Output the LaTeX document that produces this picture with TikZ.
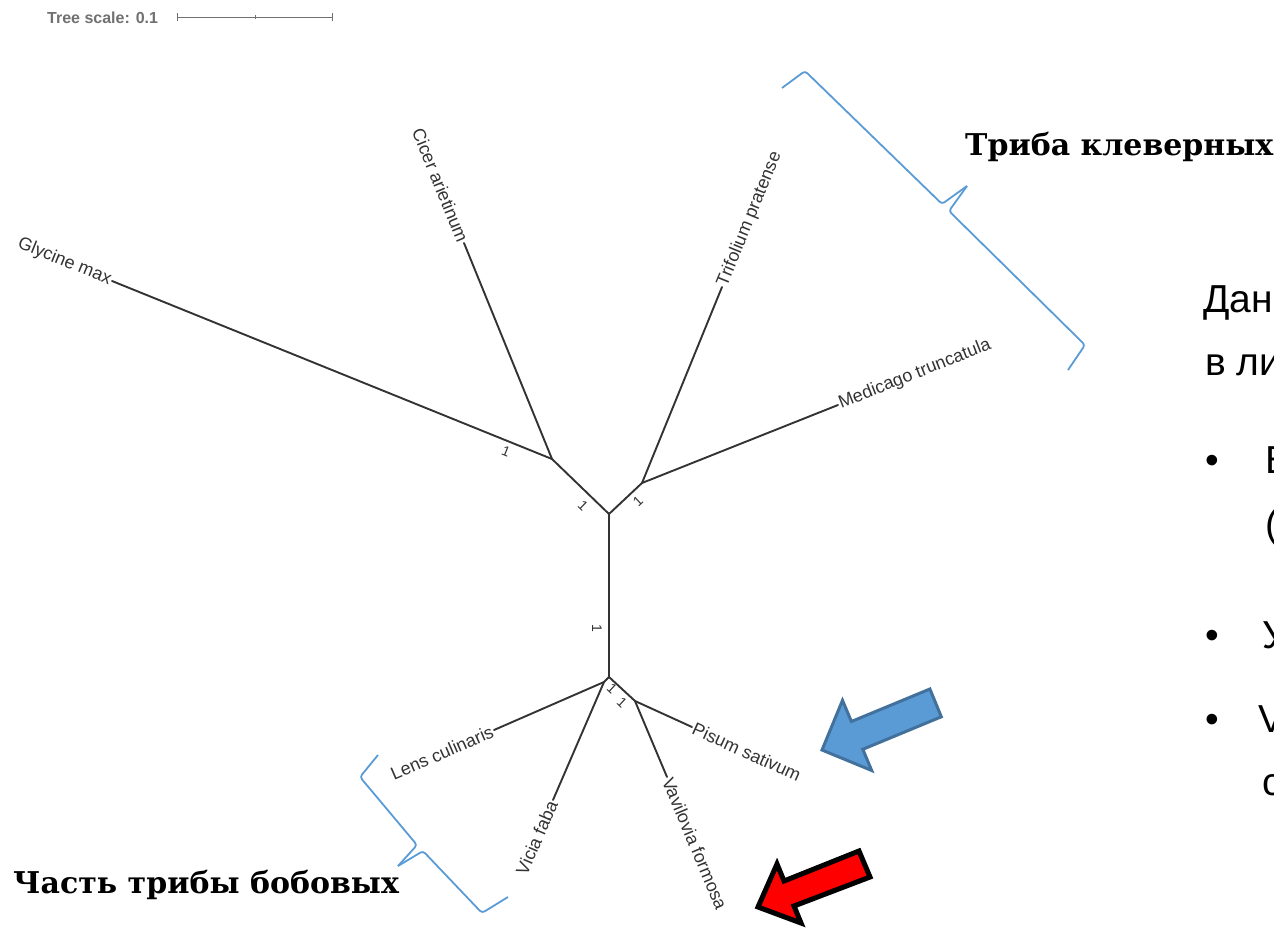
\documentclass[tikz,border=0pt]{standalone}
\usepackage{fontspec}
\setmainfont{Liberation Sans}
\newfontfamily\tribefont{DejaVu Serif}
\definecolor{treegray}{HTML}{333333}
\definecolor{scalegray}{HTML}{707070}
\definecolor{braceblue}{HTML}{5B9BD5}
\definecolor{arrowblue}{HTML}{5B9BD5}
\definecolor{arrowedge}{HTML}{41719C}

\begin{document}
\begin{tikzpicture}[x=1pt, y=-1pt,
    branch/.style = {draw=treegray, line width=1.9pt, line cap=round},
    leaf/.style   = {text=treegray, font=\fontsize{18}{18}\selectfont, inner sep=1.5pt},
    boot/.style   = {text=treegray, font=\fontsize{14}{14}\selectfont, inner sep=0pt},
    tribe/.style  = {font=\tribefont\bfseries\fontsize{30}{30}\selectfont, anchor=base west, inner sep=0pt},
    slide/.style  = {font=\fontsize{39}{39}\selectfont, anchor=base west, inner sep=0pt},
    brace/.style  = {draw=braceblue, line width=1.8pt, rounded corners=3pt}]

    \useasboundingbox (0,0) rectangle (1274,929);
    \clip (0,0) rectangle (1274,929);

    % scale bar
    \node[anchor=base west, inner sep=0pt, text=scalegray,
          font=\bfseries\fontsize{16}{16}\selectfont] (scale) at (47,23) {Tree scale: 0.1};
    \coordinate (s0) at (177,17);
    \coordinate (s1) at (332,17);
    \coordinate (sm) at (255,17);
    \draw[scalegray, line width=1pt] (s0) -- (s1);
    \draw[scalegray, line width=1pt] (s0) ++(0,-4) -- ++(0,8);
    \draw[scalegray, line width=1pt] (s1) ++(0,-4) -- ++(0,8);
    \draw[scalegray, line width=0.8pt] (sm) ++(0,-2) -- ++(0,4);

    % inner nodes
    \coordinate (u) at (609,514);
    \coordinate (l) at (609,677);
    \coordinate (a) at (552,459);
    \coordinate (b) at (642,483);
    \coordinate (c) at (604,682);
    \coordinate (d) at (635,701);

    % leaves
    \coordinate (gly)  at (112,281);
    \coordinate (cic)  at (464,243);
    \coordinate (tri)  at (722,287);
    \coordinate (med)  at (838,405);
    \coordinate (lens) at (494,730);
    \coordinate (vic)  at (553,800);
    \coordinate (pis)  at (692,727);
    \coordinate (vav)  at (667,777);

    \foreach \i/\j in {u/l, u/a, u/b, a/gly, a/cic, b/tri, b/med,
                       l/c, l/d, c/lens, c/vic, d/pis, d/vav}
        \draw[branch] (\i) -- (\j);

    \node[leaf, anchor=east, rotate=-22]   (glyname)  at (gly)  {Glycine max};
    \node[leaf, anchor=east, rotate=-67.8] (cicname)  at (cic)  {Cicer arietinum};
    \node[leaf, anchor=west, rotate=67.8]  (triname)  at (tri)  {Trifolium pratense};
    \node[leaf, anchor=west, rotate=21.7]  (medname)  at (med)  {Medicago truncatula};
    \node[leaf, anchor=east, rotate=23.6]  (lensname) at (lens) {Lens culinaris};
    \node[leaf, anchor=east, rotate=66.6]  (vicname)  at (vic)  {Vicia faba};
    \node[leaf, anchor=west, rotate=-24.5] (pisname)  at (pis)  {Pisum sativum};
    \node[leaf, anchor=west, rotate=-67.2] (vavname)  at (vav)  {Vavilovia formosa};

    % bootstrap values
    \node[boot, rotate=-22] (b1) at (506,451) {1};
    \node[boot, rotate=-44] (b2) at (583,506) {1};
    \node[boot, rotate=43]  (b3) at (638,501) {1};
    \node[boot, rotate=-90] (b4) at (597,628) {1};
    \node[boot, rotate=-43] (b5) at (612,689) {1};
    \node[boot, rotate=-43] (b6) at (622,703) {1};

    % braces
    \draw[brace] (782,88) -- (805,71) -- (942,204) -- (967,186);
    \draw[brace] (967,186) -- (949,211) -- (1085,345) -- (1068,370);
    \draw[brace] (378,755) -- (360,777) -- (417,845) -- (398,866);
    \draw[brace] (398,866) -- (423,851) -- (482,913) -- (508,897);

    \node[tribe] (clover) at (965,155) {Триба клеверных};
    \node[tribe] (vetch)  at (13,893)  {Часть трибы бобовых};

    % arrows
    \draw[fill=arrowblue, draw=arrowedge, line width=3pt, line join=miter]
        (822,750) -- (842.5,700.3) -- (851.4,721.5) -- (929.9,689.0)
        -- (941.3,716.8) -- (862.8,749.3) -- (871.7,770.5) -- cycle;
    \draw[fill=red, draw=black, line width=5pt, line join=miter]
        (758,907) -- (777,864) -- (784,881) -- (859,851)
        -- (870,877) -- (794,906) -- (801,923) -- cycle;

    % slide text
    \node[slide] (t1) at (1203,312) {Дан};
    \node[slide] (t2) at (1205,375) {в ли};
    \node[slide] (p1) at (1205,473) {•};
    \node[slide] (p1a) at (1265,473) {В};
    \node[slide] (p1b) at (1265,537) {(};
    \node[slide] (p2) at (1205,648) {•};
    \node[slide] (p2a) at (1262,648) {У};
    \node[slide] (p3) at (1205,732) {•};
    \node[slide] (p3a) at (1258,732) {V};
    \node[slide] (p3b) at (1262,795) {с};
\end{tikzpicture}
\end{document}
